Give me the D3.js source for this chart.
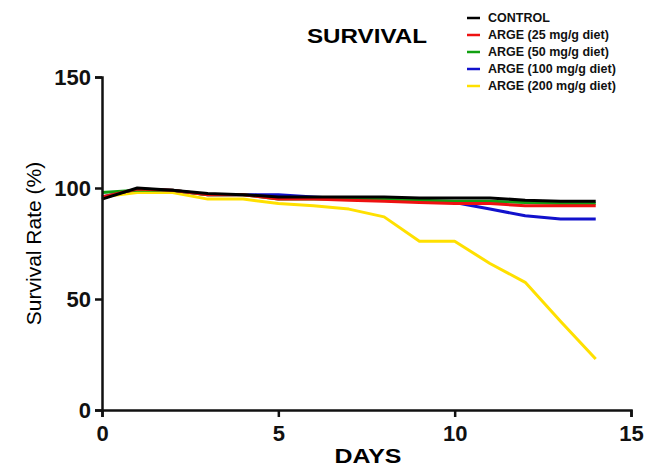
<!DOCTYPE html>
<html>
<head>
<meta charset="utf-8">
<script src="https://cdn.jsdelivr.net/npm/d3@7"></script>
<style>
  body { margin: 0; background: #fff; }
  svg { font-family: "Liberation Sans", Arial, sans-serif; }
</style>
</head>
<body>
<div id="chart"></div>
<script>
'use strict';

// data
var days = [0, 1, 2, 3, 4, 5, 6, 7, 8, 9, 10, 11, 12, 13, 14];
var control = [95, 100, 99, 97.5, 97, 96, 96, 96, 96, 95.5, 95.5, 95.5, 94.5, 94, 94];
var arge25 = [96, 99.5, 99, 97, 97, 95, 95, 94.5, 94, 93.5, 93, 93, 92, 92, 92];
var arge50 = [98, 99, 99, 97, 97, 95, 95, 95, 95, 94.5, 94, 94, 93.5, 93, 93];
var arge100 = [96, 99.5, 99, 97, 97, 97, 96, 95, 94.5, 94, 93.5, 90.5, 87.5, 86, 86];
var arge200 = [96, 98, 98, 95, 95, 93, 92, 90.5, 87, 76, 76, 66, 57.5, 40, 23];
var xTicks = [0, 5, 10, 15];
var yTicks = [0, 50, 100, 150];

var series = [
  { name: 'CONTROL', color: '#000000', values: control },
  { name: 'ARGE (25 mg/g diet)', color: '#ee1111', values: arge25 },
  { name: 'ARGE (50 mg/g diet)', color: '#11a011', values: arge50 },
  { name: 'ARGE (100 mg/g diet)', color: '#1111cc', values: arge100 },
  { name: 'ARGE (200 mg/g diet)', color: '#ffe000', values: arge200 }
];

var width = 647, height = 468;
var svg = d3.select('#chart').append('svg')
  .attr('width', width)
  .attr('height', height);

var x = d3.scaleLinear().domain([0, 15]).range([102, 631]);
var y = d3.scaleLinear().domain([0, 150]).range([410, 77]);

// lines, yellow at the back, control on top
var line = d3.line()
  .x(function(d, i) { return x(days[i]); })
  .y(function(d) { return y(d); });

svg.selectAll('path.series')
  .data(series.slice().reverse())
  .enter()
  .append('path')
  .attr('class', 'series')
  .attr('fill', 'none')
  .attr('stroke', function(d) { return d.color; })
  .attr('stroke-width', 3)
  .attr('stroke-linejoin', 'round')
  .attr('d', function(d) { return line(d.values); });

// axes
var xAxis = svg.append('g')
  .attr('transform', 'translate(0,' + y(0) + ')')
  .call(d3.axisBottom(x).tickValues(xTicks).tickSize(7).tickPadding(8));
var yAxis = svg.append('g')
  .attr('transform', 'translate(' + x(0) + ',0)')
  .call(d3.axisLeft(y).tickValues(yTicks).tickSize(7).tickPadding(4));

[xAxis, yAxis].forEach(function(g) {
  g.select('.domain').attr('stroke', '#111').attr('stroke-width', 2.5);
  g.selectAll('.tick line').attr('stroke', '#111').attr('stroke-width', 2.5);
  g.selectAll('.tick text')
    .attr('fill', '#111')
    .style('font-size', '22px')
    .style('font-weight', 'bold')
    .style('font-family', '"Liberation Sans", Arial, sans-serif');
});
yAxis.selectAll('.tick text').attr('dy', '0.36em');

// titles (the picture is a little stretched sideways, hence textLength)
svg.append('text')
  .attr('x', 367).attr('y', 43)
  .attr('text-anchor', 'middle')
  .attr('textLength', 120).attr('lengthAdjust', 'spacingAndGlyphs')
  .style('font-size', '20px').style('font-weight', 'bold')
  .text('SURVIVAL');

svg.append('text')
  .attr('x', 368).attr('y', 463)
  .attr('text-anchor', 'middle')
  .attr('textLength', 67).attr('lengthAdjust', 'spacingAndGlyphs')
  .style('font-size', '21px').style('font-weight', 'bold')
  .text('DAYS');

svg.append('text')
  .attr('transform', 'translate(41,' + y(75) + ') rotate(-90)')
  .attr('text-anchor', 'middle')
  .style('font-size', '21px')
  .text('Survival Rate (%)');

// legend
var legend = svg.selectAll('g.legend')
  .data(series)
  .enter()
  .append('g')
  .attr('class', 'legend')
  .attr('transform', function(d, i) { return 'translate(467,' + (18 + i * 17) + ')'; });

legend.append('line')
  .attr('x1', 0).attr('x2', 13)
  .attr('stroke', function(d) { return d.color; })
  .attr('stroke-width', 2.5);

legend.append('text')
  .attr('x', 21).attr('dy', '0.35em')
  .style('font-size', '12.5px').style('font-weight', 'bold')
  .attr('fill', '#111')
  .text(function(d) { return d.name; });
</script>
</body>
</html>
